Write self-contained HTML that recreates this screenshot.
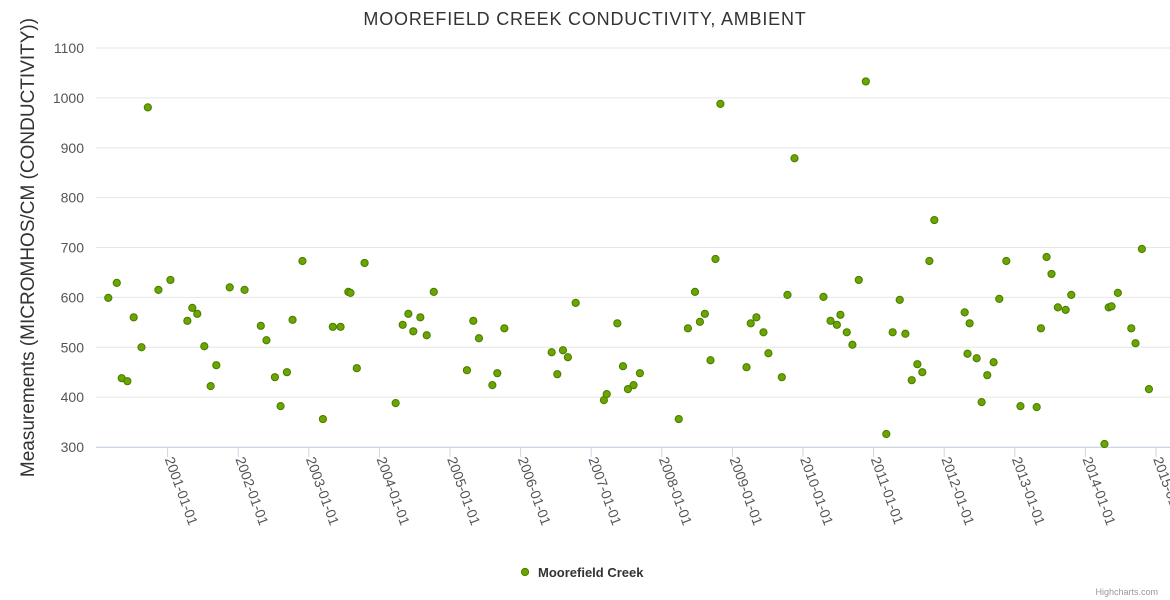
<!DOCTYPE html>
<html><head><meta charset="utf-8"><style>
body{margin:0;background:#fff;}
svg{display:block;font-family:"Liberation Sans","DejaVu Sans",sans-serif;}
</style></head><body>
<svg id="chart" width="1170" height="600" viewBox="0 0 1170 600"></svg>
<script>
const yTicks=[300,400,500,600,700,800,900,1000,1100];
const xTickYears=[2001,2002,2003,2004,2005,2006,2007,2008,2009,2010,2011,2012,2013,2014,2015];
const xTickLabels=["2001-01-01","2002-01-01","2003-01-01","2004-01-01","2005-01-01","2006-01-01","2007-01-01","2008-01-01","2009-01-01","2010-01-01","2011-01-01","2012-01-01","2013-01-01","2014-01-01","2015-01-01"];
const dates=[2000.16,2000.28,2000.35,2000.43,2000.52,2000.63,2000.72,2000.87,2001.04,2001.28,2001.35,2001.42,2001.52,2001.61,2001.69,2001.88,2002.09,2002.32,2002.40,2002.52,2002.60,2002.69,2002.77,2002.91,2003.20,2003.34,2003.45,2003.56,2003.59,2003.68,2003.79,2004.23,2004.33,2004.41,2004.48,2004.58,2004.67,2004.77,2005.24,2005.33,2005.41,2005.60,2005.67,2005.77,2006.44,2006.52,2006.60,2006.67,2006.78,2007.18,2007.22,2007.37,2007.45,2007.52,2007.60,2007.69,2008.24,2008.37,2008.47,2008.54,2008.61,2008.69,2008.76,2008.83,2009.20,2009.26,2009.34,2009.44,2009.51,2009.70,2009.78,2009.88,2010.29,2010.39,2010.48,2010.53,2010.62,2010.70,2010.79,2010.89,2011.18,2011.27,2011.37,2011.45,2011.54,2011.62,2011.69,2011.79,2011.86,2012.29,2012.33,2012.36,2012.46,2012.53,2012.61,2012.70,2012.78,2012.88,2013.08,2013.31,2013.37,2013.45,2013.52,2013.61,2013.72,2013.80,2014.27,2014.33,2014.37,2014.46,2014.65,2014.71,2014.80,2014.90];
const values=[599,629,438,432,560,500,981,615,635,553,579,567,502,422,464,620,615,543,514,440,382,450,555,673,356,541,541,611,609,458,669,388,545,567,532,560,524,611,454,553,518,424,448,538,490,446,494,480,589,394,406,548,462,416,424,448,356,538,611,551,567,474,677,988,460,548,560,530,488,440,605,879,601,553,545,565,530,505,635,1033,326,530,595,527,434,466,450,673,755,570,487,548,478,390,444,470,597,673,382,380,538,681,647,580,575,605,306,580,582,609,538,508,697,416];

const NS="http://www.w3.org/2000/svg";
const svg=document.getElementById('chart');
const L=97,R=1170,T=48,B=447;
const xMin=2000.0,pxPerYear=70.6;
const X=v=>L+(v-xMin)*pxPerYear;
const Y=v=>B-(v-300)/(1100-300)*(B-T);
function el(tag,attrs,parent){const e=document.createElementNS(NS,tag);for(const k in attrs)e.setAttribute(k,attrs[k]);(parent||svg).appendChild(e);return e;}

let t=el('text',{x:585,y:25,'text-anchor':'middle','font-size':'18','fill':'#333','letter-spacing':'0.8'});
t.textContent='MOOREFIELD CREEK CONDUCTIVITY, AMBIENT';



yTicks.forEach(v=>{
  const g=el('line',{x1:96,x2:R,y1:Y(v),y2:Y(v),stroke:'#e6e6e6','stroke-width':1});
  
  
  const tx=el('text',{x:84,y:Y(v)+5,'text-anchor':'end','font-size':'14','fill':'#555'});
  tx.textContent=v;
  
  
});
const ax=el('line',{x1:96,x2:R,y1:B+0.5,y2:B+0.5,stroke:'#ccd6eb','stroke-width':1});



xTickYears.forEach((yr,i)=>{
  const x=X(yr);
  const tk=el('line',{x1:x,x2:x,y1:B,y2:B+10,stroke:'#ccd6eb'});
  
  
  const tx=el('text',{x:0,y:0,'font-size':'14','fill':'#555',transform:`translate(${x-3},${B+12}) rotate(70)`});
  tx.textContent=xTickLabels[i];
  
  
});

const yt=el('text',{x:0,y:0,'text-anchor':'middle','font-size':'19','fill':'#333',transform:`translate(34,${(T+B)/2}) rotate(-90)`});
yt.textContent='Measurements (MICROMHOS/CM (CONDUCTIVITY))';



dates.forEach((d,i)=>{
  const c=el('circle',{cx:X(d),cy:Y(values[i]),r:3.6,fill:'#6aa500',stroke:'#4a7a00','stroke-width':1});
  
  
});

const lg=el('g',{});


el('circle',{cx:525,cy:572,r:3.6,fill:'#6aa500',stroke:'#4a7a00','stroke-width':1},lg);
const lt=el('text',{x:538,y:577,'font-size':'13','font-weight':'bold','fill':'#333'},lg);
lt.textContent='Moorefield Creek';

const cr=el('text',{x:1158,y:595,'text-anchor':'end','font-size':'9','fill':'#999'});
cr.textContent='Highcharts.com';


</script>
</body></html>
